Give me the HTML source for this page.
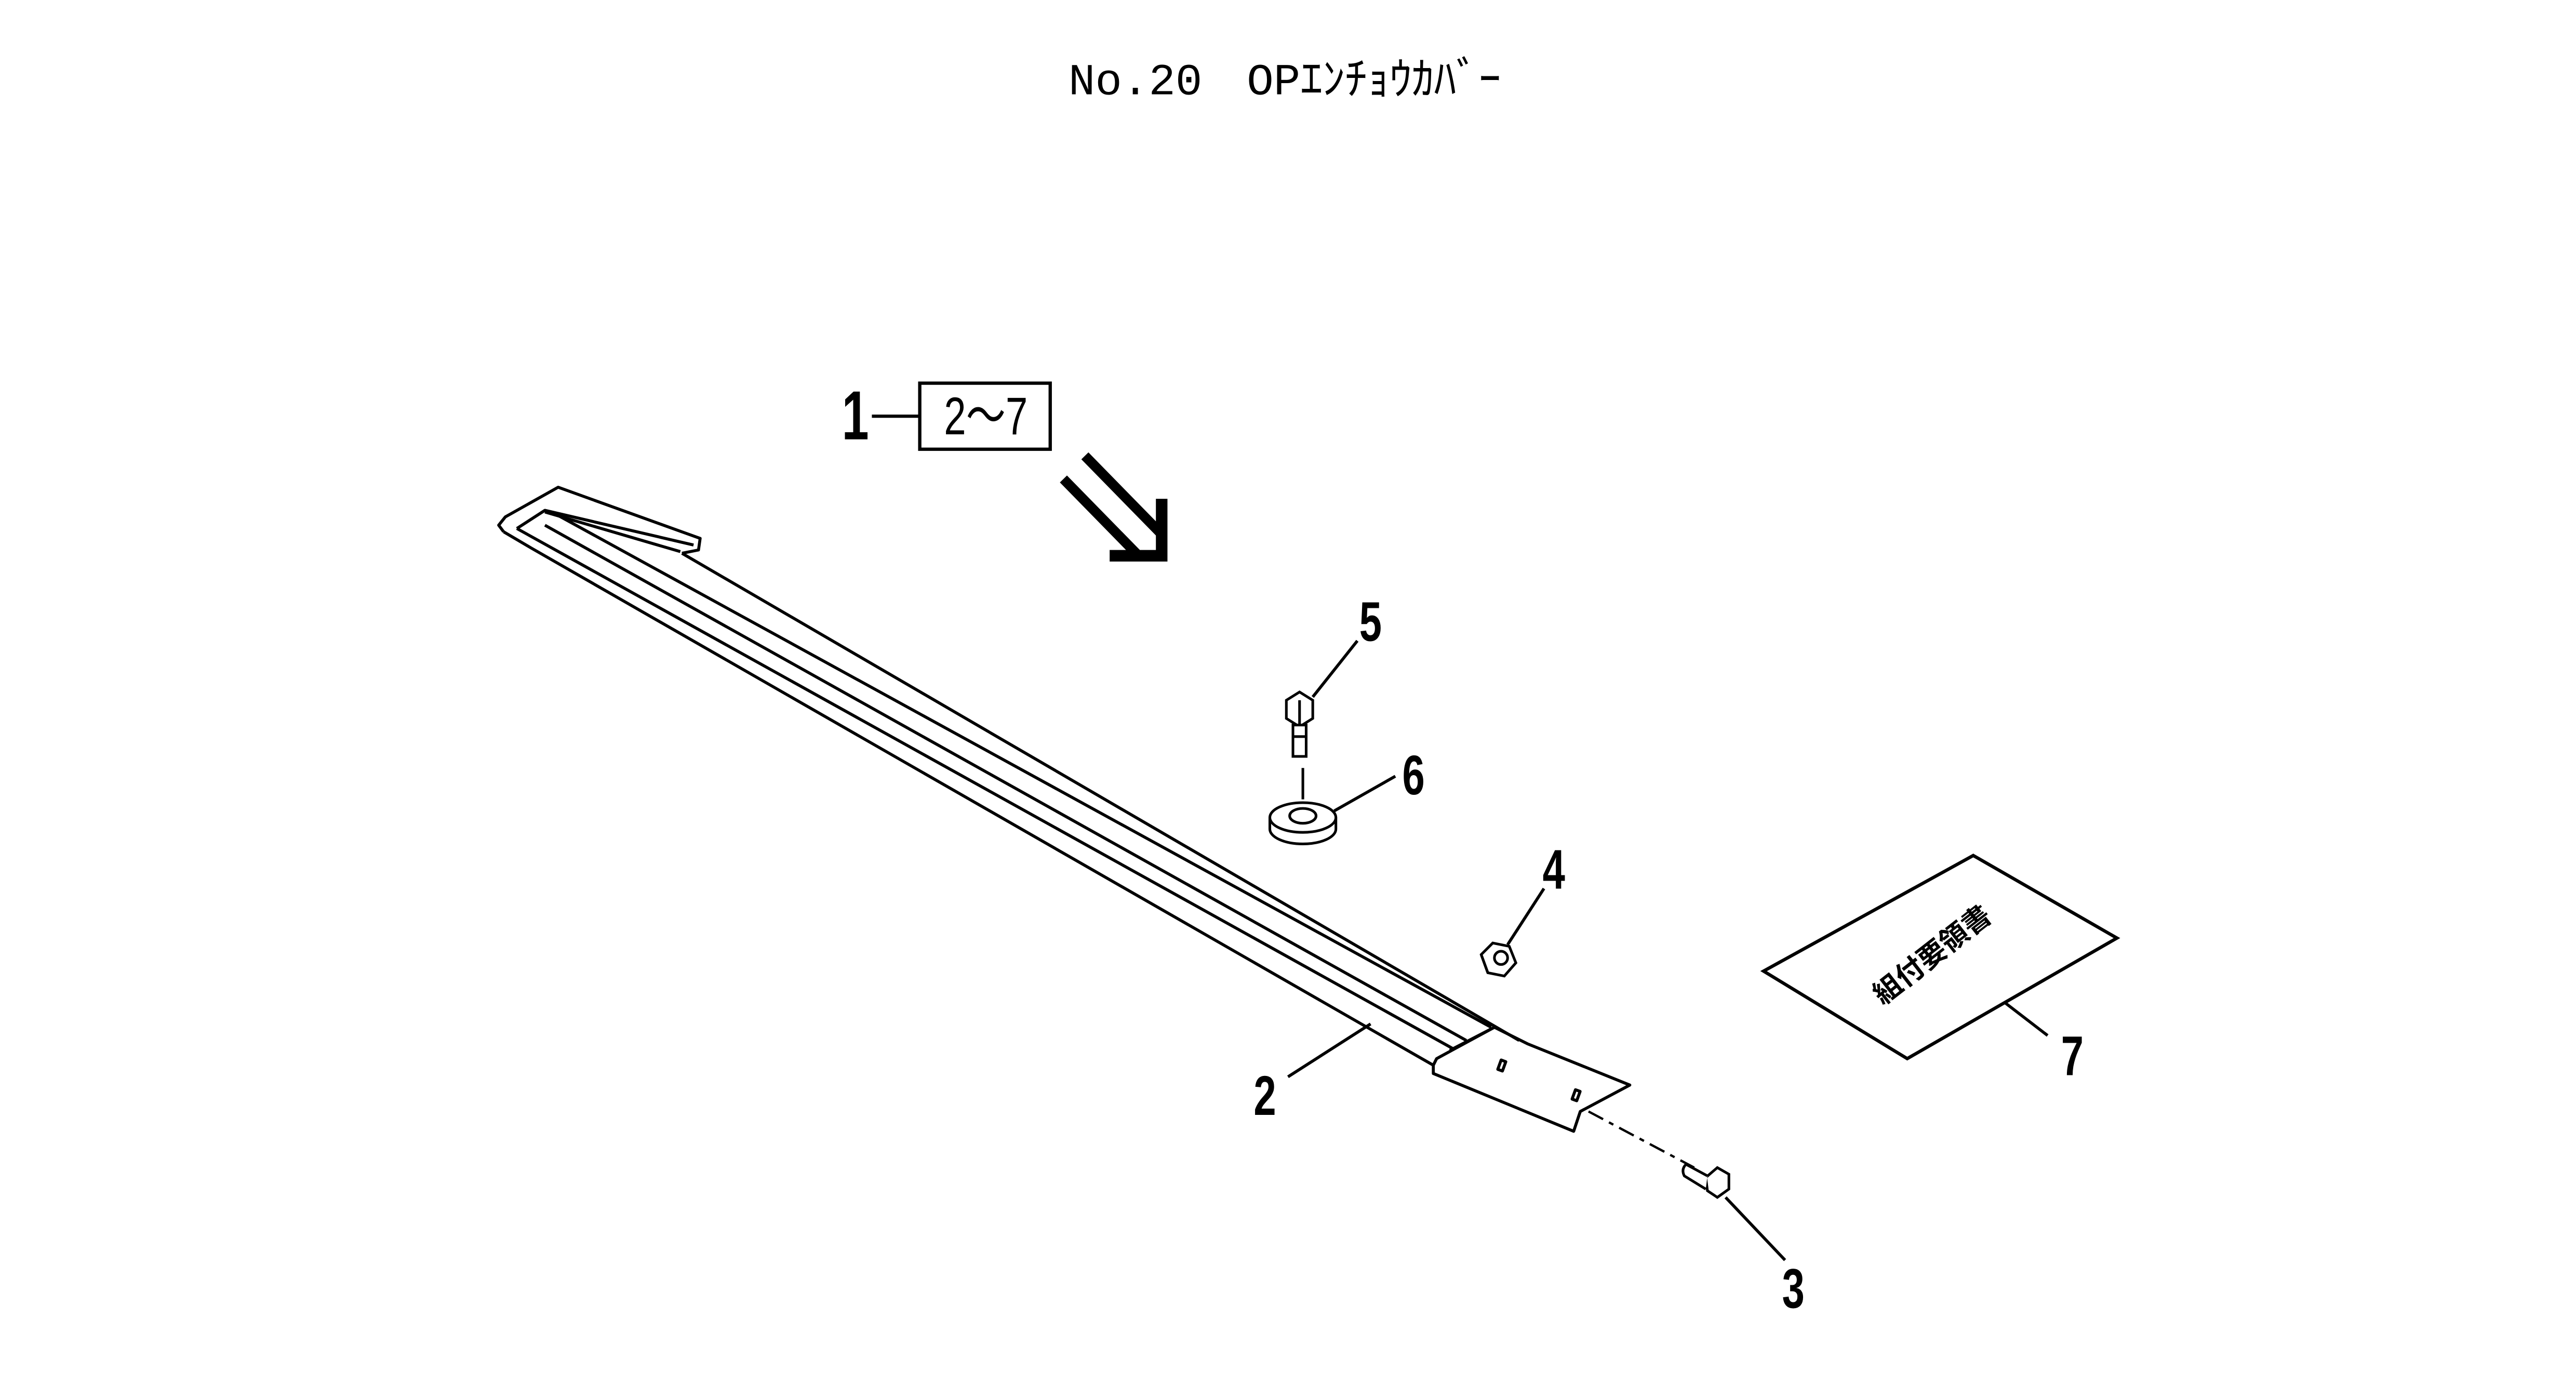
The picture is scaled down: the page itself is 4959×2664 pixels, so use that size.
<!DOCTYPE html>
<html><head><meta charset="utf-8"><style>
html,body{margin:0;padding:0;background:#fff;}
svg{display:block;}
</style></head><body>
<svg width="4959" height="2664" viewBox="0 0 1560 838" xmlns="http://www.w3.org/2000/svg">
<text transform="translate(778,57)" font-size="27" text-anchor="middle" style="font-family:'Liberation Mono','Noto Sans CJK JP',monospace" fill="#000">No.20　OPｴﾝﾁｮｳｶﾊﾞｰ</text>

<!-- 1 / box -->
<text transform="translate(518,266) scale(0.7,1)" font-size="42" text-anchor="middle" font-weight="bold" style="font-family:'Liberation Sans',sans-serif">1</text>
<line x1="528" y1="252" x2="557" y2="252" stroke="#000" stroke-width="2"/>
<rect x="557" y="232" width="79" height="40" fill="none" stroke="#000" stroke-width="2"/>
<text transform="translate(597,263) scale(0.75,1)" font-size="32" text-anchor="middle" style="font-family:'Liberation Sans','Noto Sans CJK JP',sans-serif">2～7</text>

<!-- big arrow -->
<g stroke="#000" stroke-width="6" fill="none">
<line x1="657" y1="276" x2="703" y2="323"/>
<line x1="644" y1="290" x2="690" y2="337"/>
</g>
<polygon points="700,302 707,302 707,340 672,340 672,333 700,333" fill="#000"/>

<!-- bar -->
<g fill="none" stroke="#000" stroke-width="1.8" stroke-linejoin="round">
<path d="M305,322 L302,318 L306,313 L338,295 L424,326 L423,333 L413,335"/>
<path d="M313,320 L330,309 L420,330"/>
<path d="M330,310 L412,334"/>
<line x1="413" y1="335" x2="920" y2="630"/>
<line x1="336" y1="311" x2="903" y2="622"/>
<line x1="330" y1="318" x2="888" y2="630"/>
<line x1="313" y1="320" x2="880" y2="635"/>
<path d="M305,322 L322,332 L868,645"/>
<path d="M868,645 L868,650 L953,685 L957,673 L987,657 L925,632 L905,622 L870,641 Z"/>
<line x1="878" y1="636" x2="905" y2="622"/>
<rect x="908" y="642" width="3" height="6" transform="rotate(20 909 645)"/>
<rect x="953" y="660" width="3" height="6" transform="rotate(20 954 663)"/>
</g>

<g fill="#fff" stroke="#000" stroke-width="1.6">
<polygon points="779,424 787,419 795,424 795,435 787,440 779,435"/>
<line x1="787" y1="424" x2="787" y2="440"/>
<rect x="783" y="439" width="8" height="19"/>
<line x1="783" y1="446" x2="791" y2="446"/>
<line x1="789" y1="465" x2="789" y2="484"/>
<path d="M769,495 L769,502 A20,9 0 0 0 809,502 L809,495"/>
<ellipse cx="789" cy="495" rx="20" ry="9"/>
<ellipse cx="789" cy="494" rx="8" ry="4.5"/>
<polygon points="897,578 904,571 914,573 918,583 911,591 901,589"/>
<circle cx="909" cy="580" r="4"/>
<line x1="897" y1="578" x2="901" y2="589"/>
<polygon points="1033,713 1040,707 1047,711 1047,720 1040,725 1034,721"/>
<path d="M1034,712 L1021,705 Q1018,708 1020,712 L1033,720"/>
</g>
<line x1="962" y1="673" x2="1026" y2="707" stroke="#000" stroke-width="1.4" stroke-dasharray="10,4,3,4"/>

<polygon points="1195,518 1282,568 1155,641 1068,588" fill="#fff" stroke="#000" stroke-width="2"/>
<text x="1170" y="584" font-size="17" font-weight="bold" text-anchor="middle" transform="rotate(-38 1170 578)" style="font-family:'Noto Sans CJK JP',sans-serif">組付要領書</text>

<g stroke="#000" stroke-width="1.8">
<line x1="795" y1="422" x2="822" y2="388"/>
<line x1="808" y1="491" x2="845" y2="470"/>
<line x1="913" y1="572" x2="935" y2="538"/>
<line x1="830" y1="620" x2="780" y2="652"/>
<line x1="1045" y1="725" x2="1081" y2="763"/>
<line x1="1214" y1="607" x2="1240" y2="627"/>
</g>
<g font-size="34" font-weight="bold" text-anchor="middle" style="font-family:'Liberation Sans',sans-serif">
<text transform="translate(830,388) scale(0.72,1)">5</text>
<text transform="translate(856,481) scale(0.72,1)">6</text>
<text transform="translate(941,538) scale(0.72,1)">4</text>
<text transform="translate(766,675) scale(0.72,1)">2</text>
<text transform="translate(1086,792) scale(0.72,1)">3</text>
<text transform="translate(1255,651) scale(0.72,1)">7</text>
</g>
</svg>
</body></html>
